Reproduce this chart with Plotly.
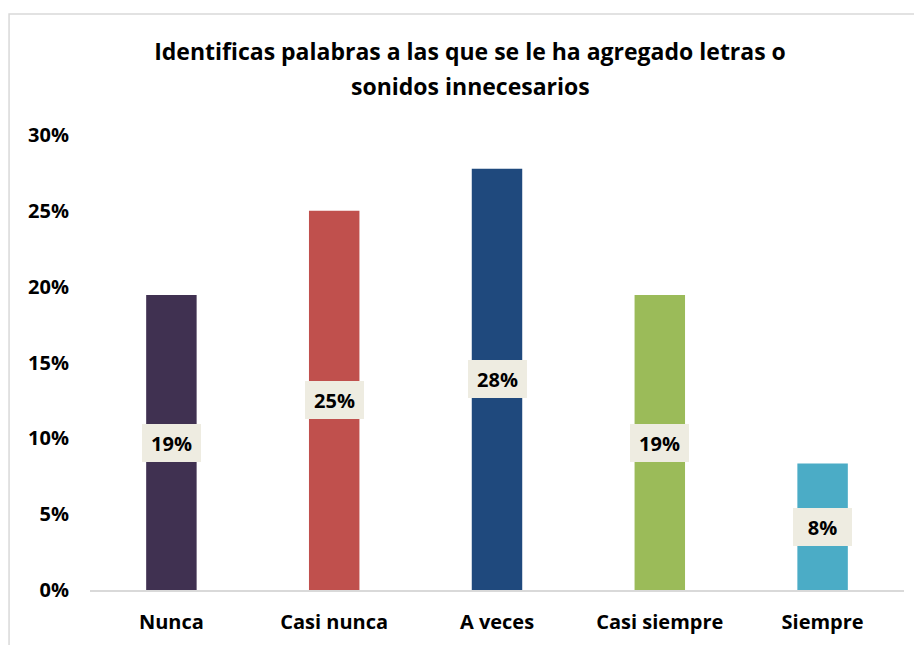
import plotly.graph_objects as go

categories = ["Nunca", "Casi nunca", "A veces", "Casi siempre", "Siempre"]
values = [7/36, 9/36, 10/36, 7/36, 3/36]
labels = ["19%", "25%", "28%", "19%", "8%"]
colors = ["#403151", "#C0504D", "#1F497D", "#9BBB59", "#4BACC6"]
yticks = [0, 0.05, 0.10, 0.15, 0.20, 0.25, 0.30]
yticklabels = ["0%", "5%", "10%", "15%", "20%", "25%", "30%"]

FONT = "Open Sans"

fig = go.Figure(go.Bar(
    x=categories, y=values, marker=dict(color=colors, line=dict(width=0)),
    width=0.31, hoverinfo="skip",
))

# page body has an 8px margin; figure coordinates are page coords minus 8
W, H = 906, 637
L, R, T, B = 81.5, 10, 127, 51
pw, ph = W - L - R, H - T - B

annotations = []
for c, v, t in zip(categories, values, labels):
    annotations.append(dict(
        x=c, y=v / 2, text=t, showarrow=False, xref="x", yref="y",
        font=dict(family=FONT, size=20, color="#000000", weight="bold"),
        bgcolor="#EEECE1", width=59, height=38, borderpad=0, borderwidth=0,
    ))

annotations.append(dict(
    xref="paper", yref="paper", x=(462 - L) / pw, y=(H - B - 78) / ph,
    text="sonidos innecesarios", showarrow=False, xanchor="center", yanchor="middle",
    font=dict(family=FONT, size=23, color="#000000", weight="bold"),
))

fig.update_layout(
    width=W, height=H,
    margin=dict(l=L, r=R, t=T, b=B, pad=0),
    paper_bgcolor="white", plot_bgcolor="white",
    showlegend=False,
    title=dict(
        text="Identificas palabras a las que se le ha agregado letras o",
        x=462 / W, xref="container", xanchor="center",
        y=1 - 44 / H, yref="container", yanchor="middle",
        font=dict(family=FONT, size=23, color="#000000", weight="bold"),
    ),
    annotations=annotations,
    xaxis=dict(
        showline=True, linecolor="#D9D9D9", linewidth=2,
        showgrid=False, ticks="", ticklabelstandoff=13,
        tickfont=dict(family=FONT, size=20, color="#000000", weight="bold"),
        fixedrange=True,
    ),
    yaxis=dict(
        range=[0, 0.30], tickvals=yticks, ticktext=yticklabels,
        showline=False, showgrid=False, zeroline=False, ticks="",
        ticklabelstandoff=20,
        tickfont=dict(family=FONT, size=20, color="#000000", weight="bold"),
        fixedrange=True,
    ),
    shapes=[
        dict(type="rect", xref="paper", yref="paper",
             x0=(0.5 - L) / pw, x1=(W + 30 - L) / pw,
             y0=(H - B - (H + 30)) / ph, y1=(H - B - 5) / ph,
             line=dict(color="#D9D9D9", width=1.5), fillcolor="rgba(0,0,0,0)",
             layer="below"),
    ],
)

fig.write_html("out.html")
